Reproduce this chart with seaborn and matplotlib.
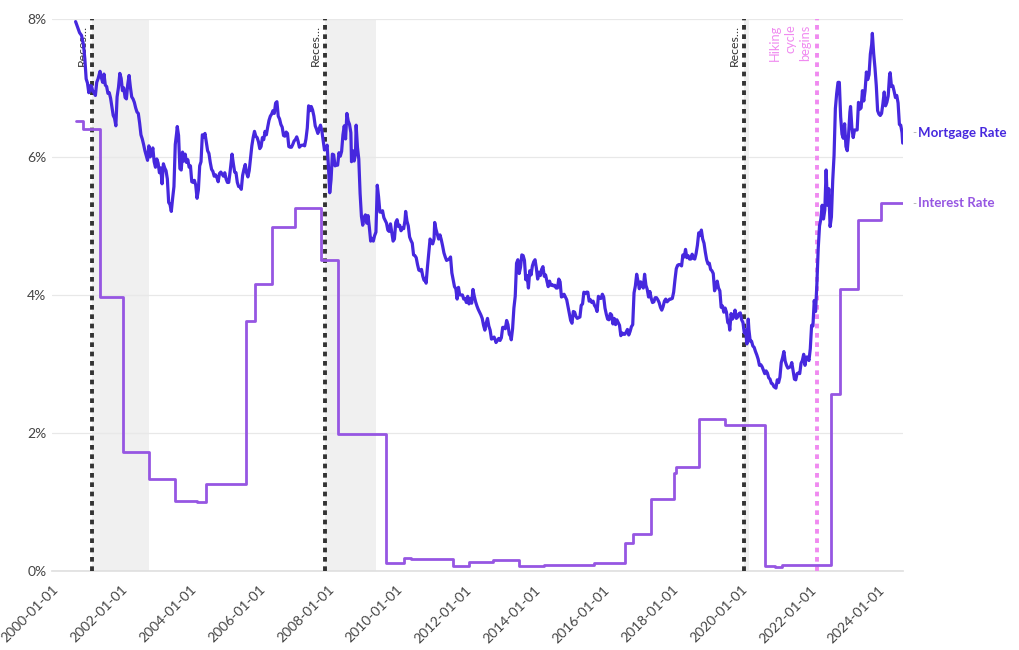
import matplotlib
matplotlib.use("Agg")
import matplotlib.pyplot as plt
import matplotlib.dates as mdates
import seaborn as sns
import pandas as pd

# ---------------- data ----------------
mortgage_dates = [
"2000-09-07","2000-09-28","2000-10-19","2000-11-09","2000-11-30","2000-12-14","2000-12-28",
"2001-01-11","2001-01-25","2001-02-08","2001-02-22","2001-03-08","2001-03-22","2001-04-05","2001-04-19",
"2001-05-03","2001-05-24","2001-06-07","2001-06-21","2001-07-05","2001-07-19","2001-08-02","2001-08-16",
"2001-08-30","2001-09-13","2001-09-27","2001-10-11","2001-10-25","2001-11-08","2001-11-21","2001-12-06",
"2001-12-20","2002-01-03","2002-01-17","2002-01-31","2002-02-14","2002-02-28","2002-03-14","2002-03-28",
"2002-04-11","2002-04-25","2002-05-09","2002-05-23","2002-06-06","2002-06-20","2002-07-04","2002-07-18",
"2002-08-01","2002-08-15","2002-08-29","2002-09-12","2002-09-26","2002-10-10","2002-10-24","2002-11-07",
"2002-11-21","2002-12-05","2002-12-19","2003-01-02","2003-01-16","2003-01-30","2003-02-13","2003-02-27",
"2003-03-13","2003-03-27","2003-04-10","2003-04-24","2003-05-08","2003-05-22","2003-06-05","2003-06-19",
"2003-07-03","2003-07-17","2003-07-31","2003-08-14","2003-08-21","2003-09-04","2003-09-18","2003-10-02",
"2003-10-16","2003-10-30","2003-11-13","2003-11-27","2003-12-11","2003-12-25","2004-01-08","2004-01-22",
"2004-02-05","2004-02-19","2004-03-04","2004-03-18","2004-04-01","2004-04-15","2004-04-29","2004-05-13",
"2004-05-27","2004-06-10","2004-06-24","2004-07-08","2004-07-22","2004-08-05","2004-08-19","2004-09-02",
"2004-09-16","2004-09-30","2004-10-14","2004-10-28","2004-11-11","2004-11-25","2004-12-09","2004-12-23",
"2005-01-06","2005-01-20","2005-02-03","2005-02-17","2005-03-03","2005-03-24","2005-04-07","2005-04-21",
"2005-05-05","2005-05-19","2005-06-02","2005-06-16","2005-06-30","2005-07-14","2005-07-28","2005-08-11",
"2005-08-25","2005-09-08","2005-09-22","2005-10-06","2005-10-20","2005-11-03","2005-11-17","2005-12-01",
"2005-12-15","2005-12-29","2006-01-12","2006-01-26","2006-02-09","2006-02-23","2006-03-09","2006-03-23",
"2006-04-06","2006-04-20","2006-05-04","2006-05-18","2006-06-01","2006-06-15","2006-06-29","2006-07-13",
"2006-07-27","2006-08-10","2006-08-24","2006-09-07","2006-09-21","2006-10-05","2006-10-19","2006-11-02",
"2006-11-16","2006-11-30","2006-12-14","2006-12-28","2007-01-11","2007-01-25","2007-02-08","2007-02-22",
"2007-03-08","2007-03-22","2007-04-05","2007-04-19","2007-05-03","2007-05-17","2007-05-31","2007-06-14",
"2007-06-28","2007-07-12","2007-07-26","2007-08-09","2007-08-23","2007-09-06","2007-09-20","2007-10-04",
"2007-10-18","2007-11-01","2007-11-15","2007-11-29","2007-12-13","2007-12-27","2008-01-10","2008-01-24",
"2008-02-07","2008-02-21","2008-03-06","2008-03-20","2008-04-03","2008-04-17","2008-05-01","2008-05-15",
"2008-05-29","2008-06-12","2008-06-26","2008-07-10","2008-07-24","2008-08-07","2008-08-21","2008-09-04",
"2008-09-11","2008-09-25","2008-10-09","2008-10-23","2008-10-30","2008-11-13","2008-11-27","2008-12-11",
"2008-12-25","2009-01-08","2009-01-22","2009-02-05","2009-02-19","2009-03-05","2009-03-19","2009-04-02",
"2009-04-16","2009-04-30","2009-05-14","2009-05-28","2009-06-11","2009-06-25","2009-07-09","2009-07-23",
"2009-08-06","2009-08-20","2009-09-03","2009-09-17","2009-10-01","2009-10-15","2009-10-29","2009-11-12",
"2009-11-26","2009-12-10","2009-12-24","2010-01-07","2010-01-21","2010-02-04","2010-02-18","2010-03-04",
"2010-03-18","2010-04-01","2010-04-08","2010-04-22","2010-05-06","2010-05-20","2010-06-03","2010-06-17",
"2010-07-01","2010-07-15","2010-07-29","2010-08-12","2010-08-26","2010-09-09","2010-09-23","2010-10-07",
"2010-10-21","2010-11-04","2010-11-11","2010-11-25","2010-12-09","2010-12-23","2011-01-06","2011-01-20",
"2011-02-03","2011-02-10","2011-02-24","2011-03-10","2011-03-24","2011-04-07","2011-04-21","2011-05-05",
"2011-05-19","2011-06-02","2011-06-16","2011-06-30","2011-07-14","2011-07-28","2011-08-11","2011-08-25",
"2011-09-08","2011-09-22","2011-10-06","2011-10-20","2011-11-03","2011-11-17","2011-12-01","2011-12-15",
"2011-12-29","2012-01-12","2012-01-26","2012-02-09","2012-02-23","2012-03-08","2012-03-22","2012-04-05",
"2012-04-19","2012-05-03","2012-05-17","2012-05-31","2012-06-14","2012-06-28","2012-07-12","2012-07-26",
"2012-08-09","2012-08-23","2012-09-06","2012-09-20","2012-10-04","2012-10-18","2012-11-01","2012-11-15",
"2012-11-21","2012-12-06","2012-12-20","2013-01-03","2013-01-17","2013-01-31","2013-02-14","2013-02-28",
"2013-03-14","2013-03-28","2013-04-11","2013-04-25","2013-05-02","2013-05-16","2013-05-30","2013-06-13",
"2013-06-27","2013-07-11","2013-07-25","2013-08-08","2013-08-22","2013-09-05","2013-09-19","2013-10-03",
"2013-10-17","2013-10-31","2013-11-14","2013-11-28","2013-12-12","2013-12-26","2014-01-09","2014-01-23",
"2014-02-06","2014-02-20","2014-03-06","2014-03-20","2014-04-03","2014-04-17","2014-05-01","2014-05-15",
"2014-05-29","2014-06-12","2014-06-26","2014-07-10","2014-07-24","2014-08-07","2014-08-21","2014-09-04",
"2014-09-18","2014-10-02","2014-10-16","2014-10-30","2014-11-13","2014-11-27","2014-12-11","2014-12-25",
"2015-01-08","2015-01-22","2015-02-05","2015-02-19","2015-03-05","2015-03-19","2015-04-02","2015-04-16",
"2015-04-30","2015-05-14","2015-05-28","2015-06-11","2015-06-25","2015-07-09","2015-07-23","2015-08-06",
"2015-08-20","2015-09-03","2015-09-17","2015-10-01","2015-10-15","2015-10-29","2015-11-12","2015-11-26",
"2015-12-10","2015-12-24","2016-01-07","2016-01-21","2016-02-04","2016-02-18","2016-03-03","2016-03-17",
"2016-03-31","2016-04-14","2016-04-28","2016-05-12","2016-05-26","2016-06-09","2016-06-23","2016-07-07",
"2016-07-21","2016-08-04","2016-08-18","2016-09-01","2016-09-15","2016-09-29","2016-10-13","2016-10-27",
"2016-11-10","2016-11-24","2016-12-08","2016-12-22","2017-01-05","2017-01-19","2017-02-02","2017-02-16",
"2017-03-02","2017-03-16","2017-03-30","2017-04-13","2017-04-27","2017-05-11","2017-05-25","2017-06-08",
"2017-06-22","2017-07-06","2017-07-20","2017-08-03","2017-08-17","2017-08-31","2017-09-14","2017-09-28",
"2017-10-12","2017-10-26","2017-11-09","2017-11-23","2017-12-07","2017-12-21","2018-01-04","2018-01-18",
"2018-02-01","2018-02-15","2018-03-01","2018-03-15","2018-03-29","2018-04-12","2018-04-26","2018-05-10",
"2018-05-24","2018-06-07","2018-06-21","2018-07-05","2018-07-19","2018-08-02","2018-08-16","2018-08-30",
"2018-09-13","2018-09-27","2018-10-11","2018-10-25","2018-11-08","2018-11-22","2018-12-06","2018-12-20",
"2019-01-03","2019-01-17","2019-01-31","2019-02-14","2019-02-28","2019-03-14","2019-03-28","2019-04-11",
"2019-04-25","2019-05-09","2019-05-23","2019-06-06","2019-06-20","2019-07-04","2019-07-18","2019-08-01",
"2019-08-15","2019-08-29","2019-09-05","2019-09-19","2019-10-03","2019-10-17","2019-10-31","2019-11-14",
"2019-11-28","2019-12-12","2019-12-26","2020-01-09","2020-01-23","2020-02-06","2020-02-20","2020-03-05",
"2020-03-19","2020-03-26","2020-04-09","2020-04-23","2020-05-07","2020-05-21","2020-06-04","2020-06-18",
"2020-07-02","2020-07-16","2020-07-30","2020-08-13","2020-08-27","2020-09-10","2020-09-24","2020-10-08",
"2020-10-22","2020-11-05","2020-11-19","2020-12-03","2020-12-17","2021-01-07","2021-01-21","2021-02-04",
"2021-02-18","2021-03-04","2021-03-18","2021-04-01","2021-04-15","2021-04-29","2021-05-13","2021-05-27",
"2021-06-10","2021-06-24","2021-07-08","2021-07-22","2021-08-05","2021-08-19","2021-09-02","2021-09-16",
"2021-09-30","2021-10-14","2021-10-28","2021-11-11","2021-11-25","2021-12-09","2021-12-23","2022-01-06",
"2022-01-20","2022-02-03","2022-02-17","2022-03-03","2022-03-17","2022-03-31","2022-04-14","2022-04-28",
"2022-05-12","2022-05-26","2022-06-09","2022-06-23","2022-07-07","2022-07-21","2022-08-04","2022-08-18",
"2022-09-01","2022-09-15","2022-09-29","2022-10-13","2022-10-27","2022-11-10","2022-11-24","2022-12-08",
"2022-12-22","2023-01-05","2023-01-19","2023-02-02","2023-02-16","2023-03-02","2023-03-09","2023-03-23",
"2023-04-06","2023-04-20","2023-05-04","2023-05-18","2023-06-01","2023-06-15","2023-06-29","2023-07-13",
"2023-07-27","2023-08-10","2023-08-24","2023-09-07","2023-09-21","2023-10-05","2023-10-19","2023-10-26",
"2023-11-09","2023-11-23","2023-12-07","2023-12-21","2024-01-04","2024-01-18","2024-02-01","2024-02-15",
"2024-02-29","2024-03-14","2024-03-28","2024-04-11","2024-04-25","2024-05-02","2024-05-16","2024-05-30",
"2024-06-13","2024-06-27","2024-07-11","2024-07-25","2024-08-08","2024-08-22","2024-09-05","2024-09-12",
]
mortgage_values = [
7.96,7.88,7.80,7.76,7.62,7.42,7.13,
7.07,6.93,7.03,7.03,6.95,6.93,6.89,7.08,
7.13,7.24,7.15,7.08,7.20,7.04,7.02,6.92,
6.93,6.85,6.72,6.60,6.56,6.45,6.87,7.01,
7.21,7.14,6.96,7.00,6.86,6.84,7.05,7.18,
7.01,6.87,6.84,6.79,6.71,6.65,6.63,6.49,
6.32,6.26,6.18,6.09,6.02,5.95,6.16,6.00,
6.04,6.13,5.93,5.85,5.97,5.91,5.77,5.84,
5.61,5.90,5.84,5.80,5.68,5.34,5.31,5.21,
5.40,5.57,6.18,6.34,6.44,6.31,5.83,5.81,
6.07,5.94,6.04,5.92,5.96,5.85,5.87,5.64,
5.63,5.66,5.59,5.40,5.52,5.87,5.93,6.32,
6.29,6.34,6.22,6.09,6.05,5.92,5.82,5.79,
5.72,5.74,5.70,5.64,5.76,5.78,5.75,5.72,
5.77,5.68,5.63,5.63,5.78,6.04,5.90,5.78,
5.77,5.63,5.57,5.57,5.53,5.73,5.82,5.89,
5.77,5.71,5.80,5.98,6.16,6.28,6.37,6.30,
6.28,6.22,6.12,6.15,6.28,6.25,6.37,6.32,
6.43,6.53,6.59,6.62,6.67,6.63,6.78,6.80,
6.59,6.55,6.47,6.43,6.31,6.30,6.36,6.34,
6.15,6.14,6.14,6.18,6.23,6.25,6.29,6.23,
6.14,6.16,6.17,6.17,6.16,6.26,6.42,6.74,
6.67,6.73,6.68,6.59,6.45,6.40,6.34,6.41,
6.46,6.38,6.24,6.10,6.11,6.17,5.87,5.48,
5.67,6.04,6.03,5.87,5.88,5.88,6.06,6.01,
6.08,6.32,6.45,6.26,6.63,6.52,6.47,6.35,
5.93,6.09,5.94,6.04,6.46,6.14,5.97,5.47,
5.14,5.01,5.12,5.16,5.04,5.15,4.98,4.78,
4.82,4.78,4.86,4.91,5.59,5.42,5.20,5.20,
5.22,5.12,5.08,5.04,4.94,4.92,5.03,4.91,
4.78,4.81,5.05,5.09,4.99,5.01,4.93,4.97,
4.96,5.08,5.21,5.07,5.00,4.84,4.79,4.75,
4.58,4.57,4.54,4.44,4.36,4.35,4.37,4.27,
4.21,4.24,4.17,4.40,4.61,4.81,4.77,4.74,
4.81,5.05,4.95,4.88,4.81,4.87,4.80,4.71,
4.61,4.55,4.50,4.51,4.52,4.55,4.32,4.22,
4.12,4.09,3.94,4.11,4.00,4.00,4.00,3.94,
3.95,3.89,3.98,3.87,3.95,3.88,4.08,3.98,
3.90,3.84,3.79,3.75,3.71,3.66,3.56,3.49,
3.59,3.66,3.55,3.49,3.36,3.37,3.39,3.34,
3.31,3.34,3.37,3.34,3.38,3.53,3.53,3.51,
3.63,3.57,3.43,3.40,3.35,3.51,3.81,3.98,
4.46,4.51,4.31,4.40,4.58,4.57,4.50,4.22,
4.28,4.10,4.35,4.29,4.42,4.48,4.51,4.39,
4.23,4.33,4.28,4.37,4.41,4.27,4.29,4.20,
4.12,4.20,4.14,4.15,4.13,4.14,4.10,4.10,
4.23,4.19,3.97,3.98,4.01,3.97,3.93,3.83,
3.73,3.63,3.59,3.76,3.75,3.69,3.66,3.67,
3.68,3.85,3.87,4.04,4.02,4.04,4.04,3.91,
3.93,3.89,3.91,3.85,3.82,3.76,3.98,3.95,
3.95,4.01,3.97,3.81,3.72,3.65,3.64,3.73,
3.71,3.58,3.66,3.57,3.64,3.60,3.56,3.41,
3.45,3.43,3.43,3.46,3.50,3.42,3.47,3.54,
3.57,4.03,4.13,4.30,4.20,4.09,4.19,4.15,
4.10,4.30,4.14,4.08,3.97,4.05,3.95,3.89,
3.90,3.96,3.96,3.93,3.89,3.82,3.78,3.83,
3.91,3.94,3.90,3.92,3.94,3.94,3.95,4.04,
4.22,4.38,4.43,4.44,4.44,4.42,4.58,4.55,
4.66,4.54,4.57,4.52,4.52,4.59,4.53,4.52,
4.60,4.72,4.90,4.86,4.94,4.81,4.75,4.62,
4.51,4.45,4.46,4.37,4.35,4.31,4.06,4.12,
4.20,4.10,4.06,3.82,3.84,3.75,3.81,3.75,
3.60,3.58,3.49,3.73,3.65,3.69,3.78,3.66,
3.68,3.73,3.74,3.64,3.60,3.45,3.49,3.29,
3.65,3.50,3.33,3.33,3.26,3.24,3.18,3.13,
3.07,2.98,2.99,2.96,2.91,2.86,2.90,2.87,
2.80,2.78,2.72,2.71,2.67,2.65,2.77,2.73,
2.81,3.02,3.09,3.18,3.04,2.98,2.94,2.95,
2.96,3.02,2.90,2.78,2.77,2.86,2.87,2.86,
3.01,3.05,3.14,2.98,3.10,3.10,3.05,3.22,
3.56,3.55,3.92,3.76,4.16,4.67,5.00,5.10,
5.30,5.10,5.23,5.81,5.30,5.54,4.99,5.13,
5.66,6.02,6.70,6.92,7.08,7.08,6.58,6.33,
6.27,6.48,6.15,6.09,6.32,6.65,6.73,6.42,
6.28,6.39,6.39,6.39,6.79,6.69,6.71,6.96,
6.81,6.96,7.23,7.12,7.19,7.49,7.63,7.79,
7.50,7.29,7.03,6.67,6.62,6.60,6.63,6.77,
6.94,6.74,6.79,6.88,7.17,7.22,7.02,7.03,
6.95,6.86,6.89,6.78,6.47,6.46,6.35,6.20,
]

rate_dates = [
"2000-09-07","2000-11-20","2001-05-22","2002-01-25","2002-10-26","2003-07-26","2004-03-20",
"2004-06-25","2005-08-20","2005-11-25","2006-05-20","2007-01-25","2007-10-22","2008-04-25",
"2009-09-12","2010-03-25","2010-06-01","2011-08-25","2012-02-05","2012-10-20","2013-07-22",
"2014-04-10","2015-09-28","2016-08-18","2016-11-15","2017-05-22","2018-01-22","2018-02-10",
"2018-10-18","2019-07-15","2020-09-12","2021-01-01","2021-03-15","2022-08-18","2022-11-15",
"2023-05-22","2024-01-25","2024-09-12",
]
rate_values = [
6.52,6.40,3.97,1.73,1.34,1.02,1.00,
1.26,3.62,4.16,4.99,5.26,4.50,1.98,
0.12,0.19,0.17,0.08,0.13,0.16,0.08,
0.09,0.12,0.40,0.54,1.04,1.42,1.51,
2.20,2.12,0.08,0.06,0.09,2.56,4.09,
5.08,5.33,5.33,
]

recession_starts = ["2001-03-01", "2007-12-01", "2020-02-01"]
recession_ends = ["2002-10-25", "2009-06-01", "2020-04-01"]
recession_label = "Reces\u2026"
hiking_date = "2022-03-16"
hiking_label = "Hiking\ncycle\nbegins"
series_names = ["Mortgage Rate", "Interest Rate"]
y_ticks = [0, 2, 4, 6, 8]

# ---------------- style ----------------
MORT_C = "#4628de"
RATE_C = "#9656e2"
HIKE_C = "#f08af0"

sns.set_theme(style="white")
plt.rcParams['font.family'] = ['Lato', 'DejaVu Sans']

mort_df = pd.DataFrame({"date": pd.to_datetime(mortgage_dates), "value": mortgage_values})
rate_df = pd.DataFrame({"date": pd.to_datetime(rate_dates), "value": rate_values})

fig = plt.figure(figsize=(10.2, 6.5), dpi=100)
ax = fig.add_axes([0.051, 0.1215, 0.834, 0.8495])

# recession shading and lines
for s, e in zip(recession_starts, recession_ends):
    ax.axvspan(pd.Timestamp(s), pd.Timestamp(e), color="#f0f0f0", lw=0, zorder=0)
for s in recession_starts:
    ax.axvline(pd.Timestamp(s), color="#333333", lw=2.8, ls=(0, (1.2, 1.2)), zorder=3)
    ax.annotate(recession_label, xy=(pd.Timestamp(s), 1), xycoords=("data", "axes fraction"),
                xytext=(-3, -4), textcoords="offset points", rotation=90,
                ha="right", va="top", fontsize=8.8, color="#333333")

ax.axvline(pd.Timestamp(hiking_date), color=HIKE_C, lw=2.8, ls=(0, (1.2, 1.2)), zorder=3)
ax.annotate(hiking_label, xy=(pd.Timestamp(hiking_date), 1), xycoords=("data", "axes fraction"),
            xytext=(-4, -4), textcoords="offset points", rotation=90,
            ha="right", va="top", fontsize=9.3, color=HIKE_C, multialignment="right",
            linespacing=1.3)

sns.lineplot(data=rate_df, x="date", y="value", ax=ax, color=RATE_C, lw=2.0,
             drawstyle="steps-post", zorder=4)
sns.lineplot(data=mort_df, x="date", y="value", ax=ax, color=MORT_C, lw=2.3, zorder=5)

ax.set_xlim(pd.Timestamp("2000-01-01"), mort_df["date"].iloc[-1])
ax.set_ylim(0, 8)
ax.set_yticks(y_ticks)
ax.set_yticklabels([f"{v}%" for v in y_ticks])
ax.set_xlabel("")
ax.set_ylabel("")

ax.xaxis.set_major_locator(mdates.YearLocator(2))
ax.xaxis.set_major_formatter(mdates.DateFormatter("%Y-%m-%d"))
for lbl in ax.get_xticklabels():
    lbl.set_rotation(45)
    lbl.set_ha("right")
    lbl.set_rotation_mode("anchor")

ax.grid(axis="y", color="#e8e8e8", lw=0.9)
ax.grid(axis="x", visible=False)
for side in ["top", "right", "left"]:
    ax.spines[side].set_visible(False)
ax.spines["bottom"].set_color("#e0e0e0")
ax.tick_params(axis="x", length=5, color="#e0e0e0", labelsize=10, labelcolor="#444444", pad=4)
ax.tick_params(axis="y", length=0, labelsize=10, labelcolor="#444444", pad=4)

# end labels
label_y = [6.35, rate_values[-1]]
for name, yv, c in zip(series_names, label_y, [MORT_C, RATE_C]):
    ax.annotate("-", xy=(1, yv), xycoords=("axes fraction", "data"), xytext=(7, 0),
                textcoords="offset points", ha="left", va="center", fontsize=8, color="#aaaaaa")
    ax.annotate(name, xy=(1, yv), xycoords=("axes fraction", "data"), xytext=(11, 0),
                textcoords="offset points", ha="left", va="center", fontsize=9.5,
                fontweight="bold", color=c)

fig.savefig("out.png", dpi=100)
